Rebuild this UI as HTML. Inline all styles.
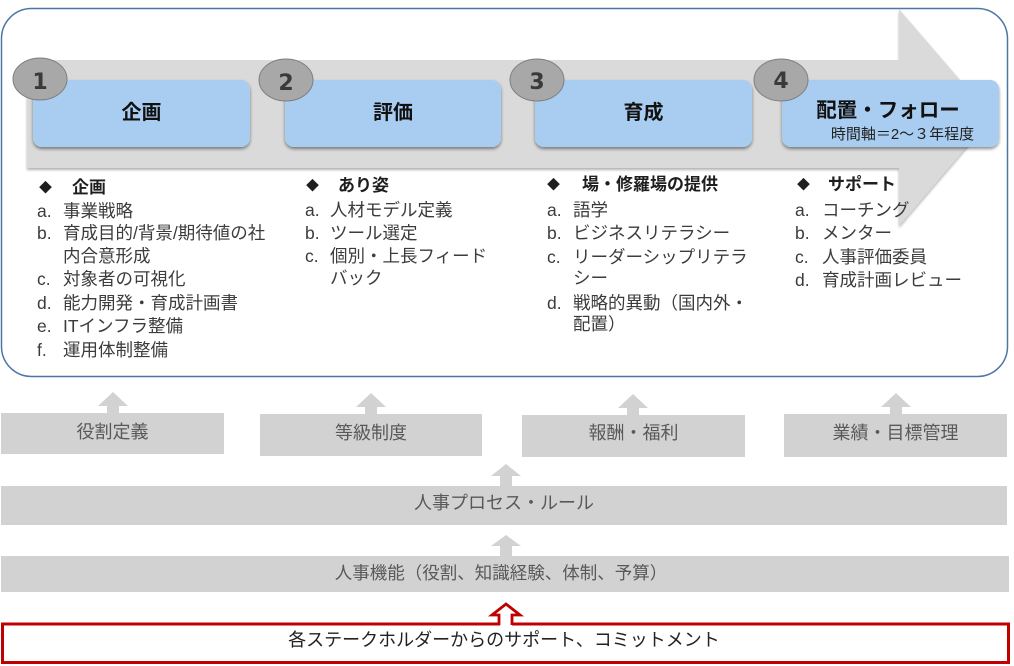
<!DOCTYPE html>
<html><head><meta charset="utf-8">
<style>
html,body{margin:0;padding:0;background:#fff;}
body{width:1014px;height:666px;position:relative;overflow:hidden;font-family:"Liberation Sans","Noto Sans CJK JP",sans-serif;}
svg{position:absolute;left:0;top:0;}
.t{position:absolute;white-space:nowrap;line-height:22px;height:22px;font-size:17.5px;color:#3c3c3c;}
.h{position:absolute;white-space:nowrap;line-height:22px;height:22px;font-size:17px;font-weight:bold;color:#1e1e1e;}
.c{position:absolute;white-space:nowrap;text-align:center;line-height:26px;height:26px;}
.d{position:absolute;line-height:22px;height:22px;font-size:13px;color:#1e1e1e;}
</style></head><body>
<svg width="1014" height="666" viewBox="0 0 1014 666" xmlns="http://www.w3.org/2000/svg">
<defs>
<filter id="sh" x="-10%" y="-10%" width="120%" height="130%"><feDropShadow dx="0" dy="2" stdDeviation="1.5" flood-color="#000" flood-opacity="0.45"/></filter>
<filter id="sh2" x="-10%" y="-10%" width="120%" height="130%"><feDropShadow dx="0" dy="2" stdDeviation="1.2" flood-color="#000" flood-opacity="0.3"/></filter>
</defs>
<!-- panel -->
<rect x="1.5" y="8.5" width="1006" height="368" rx="30" ry="30" fill="#fff" stroke="#4a78a6" stroke-width="1.5"/>
<!-- big arrow -->
<path d="M27,60 L899,60 L899,9 L992,117 L899,226 L899,168 L27,168 Z" fill="#dadada" filter="url(#sh2)"/>
<!-- blue boxes -->
<g fill="#a9cdf1" filter="url(#sh)">
<rect x="33" y="80" width="217" height="67" rx="9"/>
<rect x="285" y="80" width="216" height="67" rx="9"/>
<rect x="535" y="80" width="217" height="67" rx="9"/>
<rect x="782" y="80" width="217" height="67" rx="9"/>
</g>
<!-- circles -->
<g fill="#a8a8a8" stroke="#7f7f7f" stroke-width="1">
<ellipse cx="40" cy="79" rx="27" ry="21"/>
<ellipse cx="286" cy="80" rx="27" ry="21"/>
<ellipse cx="537" cy="80" rx="27" ry="21"/>
<ellipse cx="781" cy="80" rx="27" ry="21"/>
</g>
<g font-family="DejaVu Sans, Liberation Sans, sans-serif" font-size="22" font-weight="bold" fill="#3a3a3a" text-anchor="middle">
<text x="40" y="89">1</text>
<text x="286" y="90">2</text>
<text x="537" y="89">3</text>
<text x="781" y="88">4</text>
</g>
<!-- bottom first row -->
<g fill="#d2d2d2">
<rect x="1" y="413" width="223" height="41"/>
<rect x="260" y="414" width="222" height="42"/>
<rect x="522" y="415" width="223" height="42"/>
<rect x="784" y="414" width="223" height="43"/>
<path d="M98,406 L113,392 L128,406 L119,406 L119,413 L107,413 L107,406 Z"/>
<path d="M356,407 L371,393 L386,407 L377,407 L377,414 L365,414 L365,407 Z"/>
<path d="M618,408 L633,394 L648,408 L639,408 L639,415 L627,415 L627,408 Z"/>
<path d="M881,407 L896,393 L911,407 L902,407 L902,414 L890,414 L890,407 Z"/>
<rect x="1" y="486" width="1006" height="39"/>
<path d="M491,476 L506,464 L521,476 L512,476 L512,486 L500,486 L500,476 Z"/>
<rect x="1" y="556" width="1008" height="36"/>
<path d="M491,546 L506,535 L521,546 L512,546 L512,556 L500,556 L500,546 Z"/>
</g>
<!-- red box -->
<rect x="2.5" y="624" width="1006" height="38.5" fill="#fff" stroke="#c00000" stroke-width="3"/>
<rect x="500" y="620" width="12" height="7" fill="#fff"/>
<path d="M499,625 L499,615 L492,615 L506,604 L520,615 L512,615 L512,625" fill="#fff" stroke="#c00000" stroke-width="2.8" stroke-linejoin="miter"/>
</svg>

<!-- titles -->
<div class="c" style="left:33px;width:217px;top:100px;font-size:20px;font-weight:bold;color:#111;">企画</div>
<div class="c" style="left:285px;width:216px;top:100px;font-size:20px;font-weight:bold;color:#111;">評価</div>
<div class="c" style="left:535px;width:217px;top:100px;font-size:20px;font-weight:bold;color:#111;">育成</div>
<div class="c" style="left:782px;width:212px;top:98px;font-size:20.5px;font-weight:bold;color:#111;">配置・フォロー</div>
<div class="c" style="left:820px;width:165px;top:122px;font-size:15px;color:#222;">時間軸＝2～３年程度</div>

<!-- column 1 -->
<div class="d" style="left:39px;top:177px;">◆</div>
<div class="h" style="left:72px;top:177px;">企画</div>
<div class="t" style="left:37px;top:200px;">a.</div><div class="t" style="left:63px;top:200px;">事業戦略</div>
<div class="t" style="left:37px;top:222px;">b.</div><div class="t" style="left:63px;top:222px;">育成目的/背景/期待値の社</div>
<div class="t" style="left:63px;top:245px;">内合意形成</div>
<div class="t" style="left:37px;top:268px;">c.</div><div class="t" style="left:63px;top:268px;">対象者の可視化</div>
<div class="t" style="left:37px;top:292px;">d.</div><div class="t" style="left:63px;top:292px;">能力開発・育成計画書</div>
<div class="t" style="left:37px;top:315px;">e.</div><div class="t" style="left:63px;top:315px;">ITインフラ整備</div>
<div class="t" style="left:37px;top:339px;">f.</div><div class="t" style="left:63px;top:339px;">運用体制整備</div>

<!-- column 2 -->
<div class="d" style="left:306px;top:175px;">◆</div>
<div class="h" style="left:338px;top:175px;">あり姿</div>
<div class="t" style="left:305px;top:199px;">a.</div><div class="t" style="left:330px;top:199px;">人材モデル定義</div>
<div class="t" style="left:305px;top:222px;">b.</div><div class="t" style="left:330px;top:222px;">ツール選定</div>
<div class="t" style="left:305px;top:245px;">c.</div><div class="t" style="left:330px;top:245px;">個別・上長フィード</div>
<div class="t" style="left:330px;top:267px;">バック</div>

<!-- column 3 -->
<div class="d" style="left:547px;top:174px;">◆</div>
<div class="h" style="left:582px;top:174px;">場・修羅場の提供</div>
<div class="t" style="left:547px;top:199px;">a.</div><div class="t" style="left:573px;top:199px;">語学</div>
<div class="t" style="left:547px;top:222px;">b.</div><div class="t" style="left:573px;top:222px;">ビジネスリテラシー</div>
<div class="t" style="left:547px;top:246px;">c.</div><div class="t" style="left:573px;top:246px;">リーダーシップリテラ</div>
<div class="t" style="left:573px;top:267px;">シー</div>
<div class="t" style="left:547px;top:292px;">d.</div><div class="t" style="left:573px;top:292px;">戦略的異動（国内外・</div>
<div class="t" style="left:573px;top:313px;">配置）</div>

<!-- column 4 -->
<div class="d" style="left:797px;top:174px;">◆</div>
<div class="h" style="left:828px;top:174px;">サポート</div>
<div class="t" style="left:795px;top:199px;">a.</div><div class="t" style="left:822px;top:199px;">コーチング</div>
<div class="t" style="left:795px;top:222px;">b.</div><div class="t" style="left:822px;top:222px;">メンター</div>
<div class="t" style="left:795px;top:246px;">c.</div><div class="t" style="left:822px;top:246px;">人事評価委員</div>
<div class="t" style="left:795px;top:269px;">d.</div><div class="t" style="left:822px;top:269px;">育成計画レビュー</div>

<!-- bottom labels -->
<div class="c" style="left:1px;width:223px;top:419px;font-size:18px;color:#595959;">役割定義</div>
<div class="c" style="left:260px;width:222px;top:420px;font-size:18px;color:#595959;">等級制度</div>
<div class="c" style="left:522px;width:223px;top:420px;font-size:18px;color:#595959;">報酬・福利</div>
<div class="c" style="left:784px;width:223px;top:420px;font-size:18px;color:#595959;">業績・目標管理</div>
<div class="c" style="left:1px;width:1006px;top:490px;font-size:18px;color:#595959;">人事プロセス・ルール</div>
<div class="c" style="left:1px;width:1000px;top:560px;font-size:17.5px;color:#595959;">人事機能（役割、知識経験、体制、予算）</div>
<div class="c" style="left:1px;width:1006px;top:627px;font-size:18px;color:#222;">各ステークホルダーからのサポート、コミットメント</div>
</body></html>
